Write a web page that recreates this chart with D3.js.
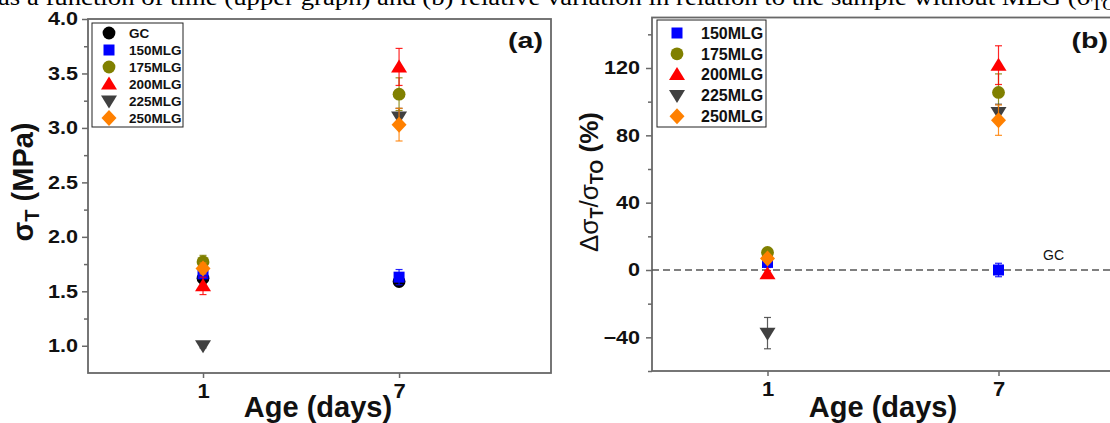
<!DOCTYPE html>
<html>
<head>
<meta charset="utf-8">
<script src="https://cdn.jsdelivr.net/npm/d3@7"></script>
<style>
  body { margin: 0; background: #fff; }
  svg { display: block; font-family: Arial, "Liberation Sans", sans-serif; }
</style>
</head>
<body>
<svg id="chart" width="1110" height="423"></svg>
<script>
// ages in days
const days = [1, 7];

// (a) flexural strength sigma_T (MPa), mean and error
const gcStrength = [1.62, 1.59];
const gcStrengthErr = [0.05, 0.04];
const mlg150Strength = [1.66, 1.63];
const mlg150StrengthErr = [0.04, 0.07];
const mlg175Strength = [1.77, 3.31];
const mlg175StrengthErr = [0.06, 0.15];
const mlg200Strength = [1.55, 3.56];
const mlg200StrengthErr = [0.08, 0.17];
const mlg225Strength = [1.0, 3.1];
const mlg225StrengthErr = [0.02, 0.08];
const mlg250Strength = [1.71, 3.03];
const mlg250StrengthErr = [0.05, 0.15];

// (b) relative variation to GC (%)
const mlg150Var = [4.5, 0];
const mlg150VarErr = [3, 4];
const mlg175Var = [10.4, 105.5];
const mlg175VarErr = [2, 11];
const mlg200Var = [-2.3, 121.7];
const mlg200VarErr = [2, 11.5];
const mlg225Var = [-37.5, 93.5];
const mlg225VarErr = [9.3, 5];
const mlg250Var = [6.9, 89];
const mlg250VarErr = [2, 9];

const strengthTicks = [1.0, 1.5, 2.0, 2.5, 3.0, 3.5, 4.0];
const strengthMinor = [1.25, 1.75, 2.25, 2.75, 3.25, 3.75];
const varTicks = [-40, 0, 40, 80, 120];
const varMinor = [-60, -20, 20, 60, 100, 140];

const caption = "as a function of time (upper graph) and (b) relative variation in relation to the sample without MLG (σ";

const svg = d3.select("#chart");
const AXIS_COLOR = "#686868";
const TXT_SX = 1.2; // tick text is a bit stretched in the source

function markerPath(shape) {
  switch (shape) {
    case "circle":
      return d3.symbol(d3.symbolCircle, Math.PI * 6.4 * 6.4)();
    case "square":
      return "M-5.5,-5.5H5.5V5.5H-5.5Z";
    case "up":
      return "M0,-7.5L8,5.5H-8Z";
    case "down":
      return "M0,7.5L8,-5.5H-8Z";
    case "diamond":
      return "M0,-8L7.5,0L0,8L-7.5,0Z";
    default:
      return "";
  }
}

// caption line cut off at the top of the picture
svg
  .append("text")
  .attr("x", -2)
  .attr("y", 5)
  .attr("font-family", "'Liberation Serif', 'DejaVu Serif', serif")
  .attr("font-size", 24)
  .attr("textLength", 1118)
  .attr("lengthAdjust", "spacingAndGlyphs")
  .text(caption)
  .append("tspan")
  .attr("font-size", 17)
  .attr("dy", 5)
  .text("TO");

function panel(opts) {
  const g = svg.append("g");
  const x = d3.scaleLinear().domain(opts.xDomain).range([opts.left, opts.right]);
  const y = d3.scaleLinear().domain(opts.yDomain).range([opts.bottom, opts.top]);

  // frame
  g.append("rect")
    .attr("x", opts.left)
    .attr("y", opts.top)
    .attr("width", opts.right - opts.left)
    .attr("height", opts.bottom - opts.top)
    .attr("fill", "none")
    .attr("stroke", AXIS_COLOR)
    .attr("stroke-width", 1.8);

  // y axis major + minor
  const yAxis = g
    .append("g")
    .attr("transform", `translate(${opts.left},0)`)
    .call(
      d3.axisLeft(y)
        .tickValues(opts.yTicks)
        .tickSize(6)
        .tickPadding(opts.yPad)
        .tickFormat(opts.yFormat)
    );
  yAxis.select(".domain").remove();
  yAxis.selectAll("line").attr("stroke", AXIS_COLOR).attr("stroke-width", 1.5);
  yAxis
    .selectAll("text")
    .attr("font-size", 18)
    .attr("font-weight", "bold")
    .attr("fill", "#111")
    .attr("transform", `scale(${TXT_SX},1)`);

  const yMinor = g
    .append("g")
    .attr("transform", `translate(${opts.left},0)`)
    .call(d3.axisLeft(y).tickValues(opts.yMinor).tickSize(4).tickFormat(""));
  yMinor.select(".domain").remove();
  yMinor.selectAll("line").attr("stroke", AXIS_COLOR).attr("stroke-width", 1.5);

  // x axis
  const xAxis = g
    .append("g")
    .attr("transform", `translate(0,${opts.bottom})`)
    .call(d3.axisBottom(x).tickValues(days).tickSize(5).tickPadding(6).tickFormat(d3.format("d")));
  xAxis.select(".domain").remove();
  xAxis.selectAll("line").attr("stroke", AXIS_COLOR).attr("stroke-width", 1.5);
  xAxis
    .selectAll("text")
    .attr("font-size", 20)
    .attr("font-weight", "bold")
    .attr("fill", "#111")
    .attr("transform", "scale(1.1,1)");

  // x label
  g.append("text")
    .attr("x", (opts.xLabelX))
    .attr("y", 417)
    .attr("text-anchor", "middle")
    .attr("font-size", 29)
    .attr("font-weight", "bold")
    .attr("fill", "#111")
    .text("Age (days)");

  // panel letter
  g.append("text")
    .attr("transform", `translate(${opts.letterX},48) scale(1.3,1)`)
    .attr("text-anchor", "end")
    .attr("font-size", 22)
    .attr("font-weight", "bold")
    .attr("fill", "#111")
    .text(opts.letter);

  return { g, x, y };
}

function drawSeries(p, series) {
  for (const s of series) {
    const sg = p.g.append("g");
    const pts = days.map((d, i) => ({ d, v: s.values[i], e: s.errors[i] }));
    const eb = sg
      .selectAll(".err")
      .data(pts)
      .enter()
      .append("g")
      .attr("stroke", s.color)
      .attr("stroke-opacity", 0.85)
      .attr("stroke-width", 1.2);
    eb.append("line")
      .attr("x1", (q) => p.x(q.d))
      .attr("x2", (q) => p.x(q.d))
      .attr("y1", (q) => p.y(q.v - q.e))
      .attr("y2", (q) => p.y(q.v + q.e));
    eb.append("line")
      .attr("x1", (q) => p.x(q.d) - 3.5)
      .attr("x2", (q) => p.x(q.d) + 3.5)
      .attr("y1", (q) => p.y(q.v + q.e))
      .attr("y2", (q) => p.y(q.v + q.e));
    eb.append("line")
      .attr("x1", (q) => p.x(q.d) - 3.5)
      .attr("x2", (q) => p.x(q.d) + 3.5)
      .attr("y1", (q) => p.y(q.v - q.e))
      .attr("y2", (q) => p.y(q.v - q.e));
    sg.selectAll(".mark")
      .data(pts)
      .enter()
      .append("path")
      .attr("d", markerPath(s.shape))
      .attr("fill", s.color)
      .attr("transform", (q) => `translate(${p.x(q.d)},${p.y(q.v)})`);
  }
}

function legend(parent, series, o) {
  const lg = parent.append("g");
  lg.append("rect")
    .attr("x", o.x)
    .attr("y", o.y)
    .attr("width", o.w)
    .attr("height", o.h)
    .attr("fill", "#fff")
    .attr("stroke", "#222")
    .attr("stroke-width", 1);
  series.forEach((s, i) => {
    const cy = o.y + o.first + i * o.step;
    lg.append("path")
      .attr("d", markerPath(s.shape))
      .attr("fill", s.color)
      .attr("transform", `translate(${o.x + o.symX},${cy})`);
    lg.append("text")
      .attr("x", o.x + o.textX)
      .attr("y", cy)
      .attr("dy", "0.36em")
      .attr("font-size", o.fs)
      .attr("font-weight", "bold")
      .attr("fill", "#111")
      .text(s.name);
  });
}

// ---- panel (a)
const strengthSeries = [
  { name: "GC", shape: "circle", color: "#000000", values: gcStrength, errors: gcStrengthErr },
  { name: "150MLG", shape: "square", color: "#0000ff", values: mlg150Strength, errors: mlg150StrengthErr },
  { name: "175MLG", shape: "circle", color: "#808000", values: mlg175Strength, errors: mlg175StrengthErr },
  { name: "200MLG", shape: "up", color: "#ff0000", values: mlg200Strength, errors: mlg200StrengthErr },
  { name: "225MLG", shape: "down", color: "#404040", values: mlg225Strength, errors: mlg225StrengthErr },
  { name: "250MLG", shape: "diamond", color: "#ff8000", values: mlg250Strength, errors: mlg250StrengthErr },
];

const pa = panel({
  left: 88, right: 551, top: 19, bottom: 373,
  xDomain: [-2.52, 11.65], yDomain: [0.75, 4.0],
  yTicks: strengthTicks, yMinor: strengthMinor, yPad: 2.4,
  yFormat: d3.format(".1f"),
  xLabelX: 318, letter: "(a)", letterX: 543,
});
drawSeries(pa, strengthSeries);
legend(pa.g, strengthSeries, { x: 92, y: 23, w: 91, h: 104, first: 10, step: 17, symX: 17, textX: 37, fs: 13.5 });

// y label (a)
const ya = svg
  .append("text")
  .attr("transform", "translate(33,182) rotate(-90)")
  .attr("text-anchor", "middle")
  .attr("font-size", 29)
  .attr("font-weight", "bold")
  .attr("fill", "#111");
ya.append("tspan").text("σ");
ya.append("tspan").attr("font-size", 20).attr("dy", 6).text("T");
ya.append("tspan").attr("dy", -6).text(" (MPa)");

// ---- panel (b)
const varSeries = [
  { name: "150MLG", shape: "square", color: "#0000ff", values: mlg150Var, errors: mlg150VarErr },
  { name: "175MLG", shape: "circle", color: "#808000", values: mlg175Var, errors: mlg175VarErr },
  { name: "200MLG", shape: "up", color: "#ff0000", values: mlg200Var, errors: mlg200VarErr },
  { name: "225MLG", shape: "down", color: "#404040", values: mlg225Var, errors: mlg225VarErr },
  { name: "250MLG", shape: "diamond", color: "#ff8000", values: mlg250Var, errors: mlg250VarErr },
];

const pb = panel({
  left: 652, right: 1191, top: 17.5, bottom: 371,
  xDomain: [-2, 12], yDomain: [-60, 150],
  yTicks: varTicks, yMinor: varMinor, yPad: 4,
  yFormat: d3.format("d"),
  xLabelX: 883, letter: "(b)", letterX: 1108,
});

// GC reference line
pb.g.append("line")
  .attr("x1", pb.x(-2))
  .attr("x2", pb.x(12))
  .attr("y1", pb.y(0))
  .attr("y2", pb.y(0))
  .attr("stroke", "#555")
  .attr("stroke-width", 1.3)
  .attr("stroke-dasharray", "7,4");
pb.g.append("text")
  .attr("x", 1043)
  .attr("y", pb.y(0) - 10)
  .attr("font-size", 14)
  .attr("fill", "#111")
  .text("GC");

drawSeries(pb, varSeries);
legend(pb.g, varSeries, { x: 657, y: 20, w: 109, h: 107, first: 13, step: 20.8, symX: 20, textX: 44, fs: 16 });

// y label (b)
const yb = svg
  .append("text")
  .attr("transform", "translate(598,182) rotate(-90)")
  .attr("text-anchor", "middle")
  .attr("font-size", 26)
  .attr("fill", "#111");
yb.append("tspan").text("Δσ");
yb.append("tspan").attr("font-size", 18).attr("font-weight", "bold").attr("dy", 5).text("T");
yb.append("tspan").attr("dy", -5).text("/σ");
yb.append("tspan").attr("font-size", 18).attr("font-weight", "bold").attr("dy", 5).text("TO");
yb.append("tspan").attr("font-weight", "bold").attr("dy", -5).text(" (%)");
</script>
</body>
</html>
